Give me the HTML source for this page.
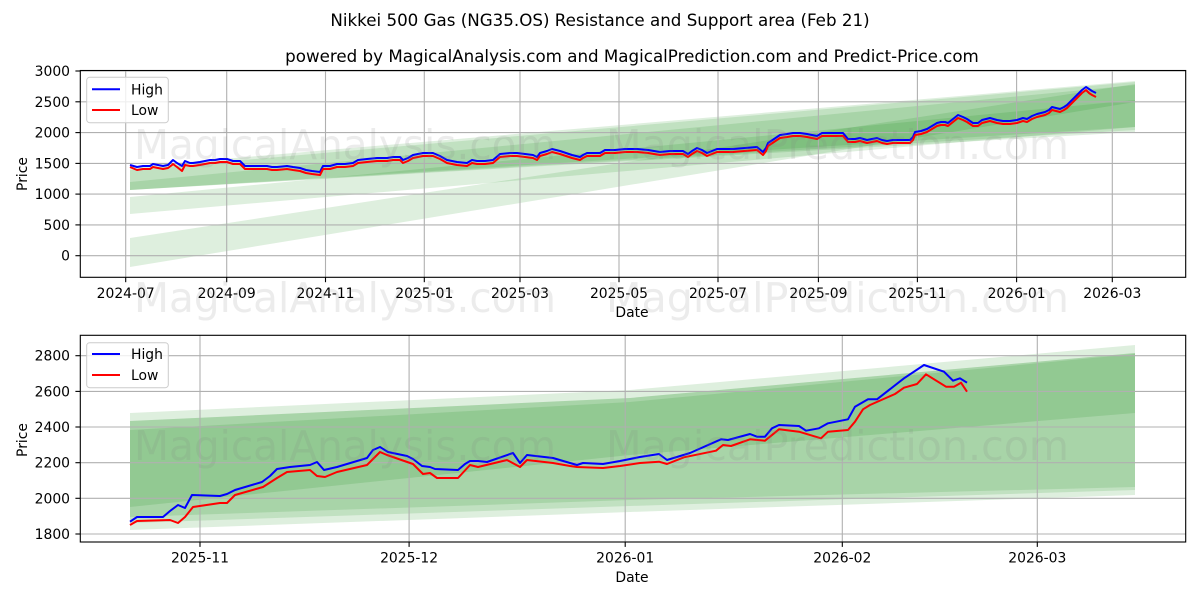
<!DOCTYPE html>
<html>
<head>
<meta charset="utf-8">
<style>
  html,body{margin:0;padding:0;background:#ffffff;}
  svg{display:block;}
  text{font-family:"DejaVu Sans","Liberation Sans",sans-serif;}
</style>
</head>
<body>
<svg width="1200" height="600" viewBox="0 0 1200 600" xmlns="http://www.w3.org/2000/svg">
  <rect x="0" y="0" width="1200" height="600" fill="#ffffff"/>

  <!-- Titles -->
  <text x="600" y="26" font-size="16.7" text-anchor="middle" fill="#000">Nikkei 500 Gas (NG35.OS) Resistance and Support area (Feb 21)</text>
  <text x="632" y="62" font-size="16.7" text-anchor="middle" fill="#000">powered by MagicalAnalysis.com and MagicalPrediction.com and Predict-Price.com</text>

  <!-- ================= TOP CHART ================= -->
  <g>
    <!-- bands -->
    <g fill="#008000" fill-opacity="0.13">
      <polygon points="130,238 1135,84 1135,102 130,267"/>
      <polygon points="130,197 1135,100 1135,127 130,214"/>
      <polygon points="130,167 1135,81 1135,132 130,190"/>
      <polygon points="130,170 1135,82 1135,130 130,190"/>
      <polygon points="130,182 1135,85 1135,127 130,190"/>
    </g>
    <!-- grid -->
    <g stroke="#b0b0b0" stroke-width="1.1">
      <line x1="80" y1="255.7" x2="1186" y2="255.7"/>
      <line x1="80" y1="224.9" x2="1186" y2="224.9"/>
      <line x1="80" y1="194.1" x2="1186" y2="194.1"/>
      <line x1="80" y1="163.4" x2="1186" y2="163.4"/>
      <line x1="80" y1="132.6" x2="1186" y2="132.6"/>
      <line x1="80" y1="101.8" x2="1186" y2="101.8"/>
      <line x1="80" y1="71.0" x2="1186" y2="71.0"/>
      <line x1="125.7" y1="70.5" x2="125.7" y2="277.3"/>
      <line x1="226.7" y1="70.5" x2="226.7" y2="277.3"/>
      <line x1="325.5" y1="70.5" x2="325.5" y2="277.3"/>
      <line x1="424.3" y1="70.5" x2="424.3" y2="277.3"/>
      <line x1="520.0" y1="70.5" x2="520.0" y2="277.3"/>
      <line x1="619.0" y1="70.5" x2="619.0" y2="277.3"/>
      <line x1="718.0" y1="70.5" x2="718.0" y2="277.3"/>
      <line x1="818.4" y1="70.5" x2="818.4" y2="277.3"/>
      <line x1="917.4" y1="70.5" x2="917.4" y2="277.3"/>
      <line x1="1016.6" y1="70.5" x2="1016.6" y2="277.3"/>
      <line x1="1112.3" y1="70.5" x2="1112.3" y2="277.3"/>
    </g>
    <!-- data lines -->
    <polyline fill="none" stroke="#0000ff" stroke-width="2" stroke-linejoin="round" points="130,165 137,167 143,166 150,166 153,164 158,165 163,166 168,165 172,161 173,160 177,163 182,166 185,161 190,163 193,163 200,162 205,161 210,160 215,160 220,159 227,159 233,161 240,161 245,166 255,166 267,166 272,167 277,167 287,166 293,167 300,168 306,170 312,171 320,172 323,166 330,166 337,164 345,164 353,163 358,160 367,159 377,158 387,158 393,157 400,157 403,160 408,158 413,155 423,153 433,153 440,156 447,160 457,162 467,163 472,160 477,161 485,161 493,160 500,154 510,153 517,153 525,154 533,155 537,157 540,153 547,151 552,149 560,151 566,153 572,155 580,157 583,155 587,153 594,153 600,153 605,150 615,150 625,149 637,149 648,150 660,152 670,151 683,151 688,154 692,151 697,148 702,150 707,153 712,151 717,149 725,149 733,149 745,148 757,147 763,152 766,148 768,143 774,139 780,135 787,134 793,133 800,133 807,134 812,135 817,136 822,133 830,133 837,133 843,133 848,139 855,139 860,138 867,140 872,139 877,138 882,140 887,141 893,140 900,140 910,140 913,137 915,132 921,131 927,129 932,126 937,123 941,122 945,122 948,123 953,119 958,115 963,117 967,119 973,123 978,123 982,120 986,119 990,118 997,120 1003,121 1010,121 1017,120 1023,118 1027,119 1032,116 1037,114 1041,113 1045,112 1049,110 1052,107 1056,108 1060,109 1064,107 1067,105 1070,102 1072,100 1075,97 1077,95 1080,92 1082,90 1086,87 1089,89 1092,91 1096,93"/>
    <polyline fill="none" stroke="#ff0000" stroke-width="2" stroke-linejoin="round" points="130,167 137,170 143,169 150,169 153,167 158,168 163,169 168,168 172,165 173,164 177,167 182,171 185,165 190,166 193,166 200,165 205,164 210,163 215,163 220,162 227,162 233,164 240,164 245,169 255,169 267,169 272,170 277,170 287,169 293,170 300,171 306,173 312,174 320,175 323,169 330,169 337,167 345,167 353,166 358,163 367,162 377,161 387,161 393,160 400,160 403,163 408,161 413,158 423,156 433,156 440,159 447,163 457,165 467,166 472,163 477,164 485,164 493,163 500,157 510,156 517,156 525,157 533,158 537,160 540,156 547,154 552,152 560,154 566,156 572,158 580,160 583,158 587,156 594,156 600,156 605,153 615,153 625,152 637,152 648,153 660,155 670,154 683,154 688,157 692,154 697,151 702,153 707,156 712,154 717,152 725,152 733,152 745,151 757,150 763,155 766,151 768,146 774,142 780,138 787,137 793,136 800,136 807,137 812,138 817,139 822,136 830,136 837,136 843,136 848,142 855,142 860,141 867,143 872,142 877,141 882,143 887,144 893,143 900,143 910,143 913,140 915,135 921,134 927,132 932,129 937,126 941,125 945,125 948,126 953,122 958,118 963,120 967,122 973,126 978,126 982,123 986,122 990,121 997,123 1003,124 1010,124 1017,123 1023,121 1027,122 1032,119 1037,117 1041,116 1045,115 1049,113 1052,110 1056,111 1060,112 1064,110 1067,108 1070,105 1072,103 1075,100 1077,98 1080,95 1082,93 1086,90 1089,93 1092,95 1096,97"/>
    <!-- spines -->
    <rect x="80.3" y="70.5" width="1105.4" height="206.8" fill="none" stroke="#000" stroke-width="1.1"/>
    <!-- ticks -->
    <g stroke="#000" stroke-width="1.1">
      <line x1="75.4" y1="255.7" x2="80.3" y2="255.7"/>
      <line x1="75.4" y1="224.9" x2="80.3" y2="224.9"/>
      <line x1="75.4" y1="194.1" x2="80.3" y2="194.1"/>
      <line x1="75.4" y1="163.4" x2="80.3" y2="163.4"/>
      <line x1="75.4" y1="132.6" x2="80.3" y2="132.6"/>
      <line x1="75.4" y1="101.8" x2="80.3" y2="101.8"/>
      <line x1="75.4" y1="71.0" x2="80.3" y2="71.0"/>
      <line x1="125.7" y1="277.3" x2="125.7" y2="282.2"/>
      <line x1="226.7" y1="277.3" x2="226.7" y2="282.2"/>
      <line x1="325.5" y1="277.3" x2="325.5" y2="282.2"/>
      <line x1="424.3" y1="277.3" x2="424.3" y2="282.2"/>
      <line x1="520.0" y1="277.3" x2="520.0" y2="282.2"/>
      <line x1="619.0" y1="277.3" x2="619.0" y2="282.2"/>
      <line x1="718.0" y1="277.3" x2="718.0" y2="282.2"/>
      <line x1="818.4" y1="277.3" x2="818.4" y2="282.2"/>
      <line x1="917.4" y1="277.3" x2="917.4" y2="282.2"/>
      <line x1="1016.6" y1="277.3" x2="1016.6" y2="282.2"/>
      <line x1="1112.3" y1="277.3" x2="1112.3" y2="282.2"/>
    </g>
    <g font-size="13.9" fill="#000" text-anchor="end">
      <text x="70" y="260.7">0</text>
      <text x="70" y="229.9">500</text>
      <text x="70" y="199.1">1000</text>
      <text x="70" y="168.4">1500</text>
      <text x="70" y="137.6">2000</text>
      <text x="70" y="106.8">2500</text>
      <text x="70" y="76.0">3000</text>
    </g>
    <g font-size="13.9" fill="#000" text-anchor="middle">
      <text x="125.7" y="298">2024-07</text>
      <text x="226.7" y="298">2024-09</text>
      <text x="325.5" y="298">2024-11</text>
      <text x="424.3" y="298">2025-01</text>
      <text x="520.0" y="298">2025-03</text>
      <text x="619.0" y="298">2025-05</text>
      <text x="718.0" y="298">2025-07</text>
      <text x="818.4" y="298">2025-09</text>
      <text x="917.4" y="298">2025-11</text>
      <text x="1016.6" y="298">2026-01</text>
      <text x="1112.3" y="298">2026-03</text>
      <text x="632" y="317">Date</text>
    </g>
    <text x="0" y="0" font-size="13.9" fill="#000" text-anchor="middle" transform="translate(27,174) rotate(-90)">Price</text>
    <!-- legend -->
    <rect x="86.7" y="77.3" width="81.6" height="45.4" rx="3" ry="3" fill="#ffffff" fill-opacity="0.8" stroke="#cccccc" stroke-width="1"/>
    <line x1="92" y1="89.3" x2="120" y2="89.3" stroke="#0000ff" stroke-width="2"/>
    <text x="131" y="94.3" font-size="13.9" fill="#000">High</text>
    <line x1="92" y1="110" x2="120" y2="110" stroke="#ff0000" stroke-width="2"/>
    <text x="131" y="115" font-size="13.9" fill="#000">Low</text>
  </g>

  <!-- ================= BOTTOM CHART ================= -->
  <g>
    <g fill="#008000" fill-opacity="0.13">
      <polygon points="130,413 630,390 1135,345 1135,495 630,512 130,530"/>
      <polygon points="130,421 630,398 1135,353 1135,490 630,506 130,523"/>
      <polygon points="130,421 630,398 1135,353 1135,487 630,500 130,517"/>
      <polygon points="130,430 630,402 1135,354 1135,413 630,455 130,507"/>
    </g>
    <g stroke="#b0b0b0" stroke-width="1.1">
      <line x1="80" y1="534.0" x2="1186" y2="534.0"/>
      <line x1="80" y1="498.3" x2="1186" y2="498.3"/>
      <line x1="80" y1="462.7" x2="1186" y2="462.7"/>
      <line x1="80" y1="427.0" x2="1186" y2="427.0"/>
      <line x1="80" y1="391.4" x2="1186" y2="391.4"/>
      <line x1="80" y1="355.7" x2="1186" y2="355.7"/>
      <line x1="200.0" y1="335.3" x2="200.0" y2="542"/>
      <line x1="409.1" y1="335.3" x2="409.1" y2="542"/>
      <line x1="625.2" y1="335.3" x2="625.2" y2="542"/>
      <line x1="842.3" y1="335.3" x2="842.3" y2="542"/>
      <line x1="1037.3" y1="335.3" x2="1037.3" y2="542"/>
    </g>
    <polyline fill="none" stroke="#0000ff" stroke-width="2" stroke-linejoin="round" points="130,521.7 137,517 163,517 170,511 178,505 185,508 192,495 220,496 227,494 235,490 262,482 270,476 277,469 290,467 310,465 317,462 324,470 337,467 367,458 373,450 380,447 388,452 407,456 413,459 422,466 430,467 435,469 458,470 465,464 470,461 478,461 487,462 513,453 520,463 527,455 553,458 570,463 577,465 583,463 603,464 620,461 640,457 659,454 667,460 690,453 721,439.3 728,440 750,434 757,436.7 765,436.7 772,428.3 779,425 799,426 806,430.7 819,428.3 828,423.3 848,419.3 855,406.7 868,399.3 877,399.3 904,378.3 924,365 944,371.7 953,380.7 960,378.3 967,382.7"/>
    <polyline fill="none" stroke="#ff0000" stroke-width="2" stroke-linejoin="round" points="130,525 137,521 170,520 178,523 185,517 193,507 220,503 227,503 235,495 263,487 277,478 287,472 310,470 317,476 325,477 337,472 367,465 380,452 387,455 413,464 423,474 430,473 437,478 458,478 470,465 478,467 507,460 520,467 527,460 553,463 570,466 577,467 603,468 620,466 640,463 659,461.7 667,464 684,457.3 716,450.7 723,445 731,446 750,439.3 765,440.7 779,429.3 799,431.7 821,438.3 828,431.7 848,430 855,421.7 863,409.3 870,405 895,394 904,387.7 917,384 926,374.3 946,386.7 954,386.7 961,382.7 967,391.7"/>
    <rect x="80.3" y="335.3" width="1105.4" height="206.7" fill="none" stroke="#000" stroke-width="1.1"/>
    <g stroke="#000" stroke-width="1.1">
      <line x1="75.4" y1="534.0" x2="80.3" y2="534.0"/>
      <line x1="75.4" y1="498.3" x2="80.3" y2="498.3"/>
      <line x1="75.4" y1="462.7" x2="80.3" y2="462.7"/>
      <line x1="75.4" y1="427.0" x2="80.3" y2="427.0"/>
      <line x1="75.4" y1="391.4" x2="80.3" y2="391.4"/>
      <line x1="75.4" y1="355.7" x2="80.3" y2="355.7"/>
      <line x1="200.0" y1="542" x2="200.0" y2="546.9"/>
      <line x1="409.1" y1="542" x2="409.1" y2="546.9"/>
      <line x1="625.2" y1="542" x2="625.2" y2="546.9"/>
      <line x1="842.3" y1="542" x2="842.3" y2="546.9"/>
      <line x1="1037.3" y1="542" x2="1037.3" y2="546.9"/>
    </g>
    <g font-size="13.9" fill="#000" text-anchor="end">
      <text x="70" y="539.0">1800</text>
      <text x="70" y="503.3">2000</text>
      <text x="70" y="467.7">2200</text>
      <text x="70" y="432.0">2400</text>
      <text x="70" y="396.4">2600</text>
      <text x="70" y="360.7">2800</text>
    </g>
    <g font-size="13.9" fill="#000" text-anchor="middle">
      <text x="200.0" y="562.5">2025-11</text>
      <text x="409.1" y="562.5">2025-12</text>
      <text x="625.2" y="562.5">2026-01</text>
      <text x="842.3" y="562.5">2026-02</text>
      <text x="1037.3" y="562.5">2026-03</text>
      <text x="632" y="582">Date</text>
    </g>
    <text x="0" y="0" font-size="13.9" fill="#000" text-anchor="middle" transform="translate(27,440) rotate(-90)">Price</text>
    <rect x="86.7" y="342.7" width="81.6" height="45" rx="3" ry="3" fill="#ffffff" fill-opacity="0.8" stroke="#cccccc" stroke-width="1"/>
    <line x1="92" y1="354" x2="120" y2="354" stroke="#0000ff" stroke-width="2"/>
    <text x="131" y="359" font-size="13.9" fill="#000">High</text>
    <line x1="92" y1="375" x2="120" y2="375" stroke="#ff0000" stroke-width="2"/>
    <text x="131" y="380" font-size="13.9" fill="#000">Low</text>
  </g>

  <!-- ================= WATERMARKS ================= -->
  <g font-size="41" fill="#808080" fill-opacity="0.15">
    <text x="134" y="159" textLength="422" lengthAdjust="spacingAndGlyphs">MagicalAnalysis.com</text>
    <text x="606" y="159" textLength="463" lengthAdjust="spacingAndGlyphs">MagicalPrediction.com</text>
    <text x="134" y="312" textLength="422" lengthAdjust="spacingAndGlyphs">MagicalAnalysis.com</text>
    <text x="606" y="312" textLength="463" lengthAdjust="spacingAndGlyphs">MagicalPrediction.com</text>
    <text x="134" y="460" textLength="422" lengthAdjust="spacingAndGlyphs">MagicalAnalysis.com</text>
    <text x="606" y="460" textLength="463" lengthAdjust="spacingAndGlyphs">MagicalPrediction.com</text>
  </g>
</svg>
</body>
</html>
